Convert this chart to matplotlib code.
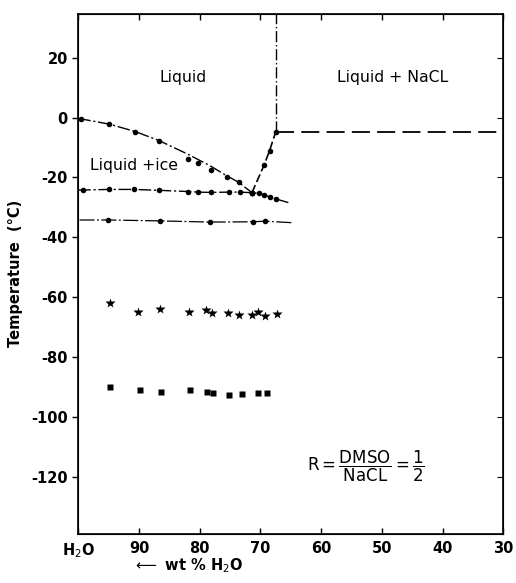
import numpy as np
import matplotlib
matplotlib.use("Agg")
import matplotlib.pyplot as plt

# --- Data (x = wt % H2O, y = temperature in deg C) ---
ice_pts_x = [99.5, 94.9, 90.6, 86.7, 81.9, 80.2, 78.2, 75.5, 73.5, 71.4]
ice_pts_y = [-0.4, -2.2, -4.7, -7.7, -14.0, -15.2, -17.5, -19.9, -21.6, -25.1]
ice_line_x = [100.0, 94.9, 90.6, 86.7, 82.0, 78.3, 75.5, 73.6, 71.4]
ice_line_y = [-0.3, -2.2, -4.7, -7.7, -12.2, -16.1, -19.5, -21.6, -25.1]

nacl_pts_x = [71.4, 69.4, 68.5, 67.5]
nacl_pts_y = [-25.1, -15.9, -11.1, -4.9]

eut_pts_x = [99.2, 94.9, 90.9, 86.7, 81.9, 80.2, 78.2, 75.2, 73.3, 71.4, 70.3, 69.4, 68.4, 67.4]
eut_pts_y = [-24.2, -24.0, -24.0, -24.3, -24.7, -24.9, -25.0, -24.9, -24.9, -25.1, -25.3, -25.8, -26.6, -27.2]
eut_line_x = [100.0] + eut_pts_x + [65.4]
eut_line_y = [-24.2] + eut_pts_y + [-28.4]

low_pts_x = [95.1, 86.6, 78.3, 71.3, 69.3]
low_pts_y = [-34.2, -34.5, -34.9, -34.8, -34.6]
low_line_x = [99.8] + low_pts_x + [64.8]
low_line_y = [-34.2] + low_pts_y + [-35.1]

star_x = [94.7, 90.1, 86.5, 81.7, 79.0, 78.0, 75.3, 73.6, 71.4, 70.4, 69.2, 67.3]
star_y = [-62.0, -64.9, -64.0, -64.9, -64.3, -65.3, -65.4, -65.9, -66.0, -64.9, -66.3, -65.7]

sq_x = [94.7, 89.9, 86.3, 81.6, 78.8, 77.8, 75.1, 73.1, 70.4, 69.0]
sq_y = [-90.1, -91.1, -91.5, -91.0, -91.7, -92.0, -92.5, -92.3, -91.8, -92.1]

# NaCl solubility boundaries
corner = (67.5, -5.0)
x_max, x_min = 100, 30
y_min, y_max = -139, 34.7

x_ticks = [100, 90, 80, 70, 60, 50, 40, 30]
x_labels = ["H$_2$O", "90", "80", "70", "60", "50", "40", "30"]
y_ticks = [20, 0, -20, -40, -60, -80, -100, -120]

plt.rcParams['axes.unicode_minus'] = False
plt.rcParams['font.family'] = ['DejaVu Sans']
plt.rcParams['mathtext.fontset'] = 'dejavusans'

fig = plt.figure(figsize=(5.16, 5.83), dpi=100)
ax = fig.add_axes([0.1517, 0.0840, 0.8237, 0.8928])

lc = 'black'
# ice liquidus
ax.plot(ice_line_x, ice_line_y, color=lc, lw=1.0, dashes=(9, 2, 1.5, 2))
ax.plot(ice_pts_x, ice_pts_y, 'o', color=lc, ms=4, mec='none')
# NaCl liquidus
ax.plot(nacl_pts_x, nacl_pts_y, color=lc, lw=1.2, dashes=(5, 2))
ax.plot(nacl_pts_x, nacl_pts_y, 'o', color=lc, ms=4, mec='none')
# eutectic line
ax.plot(eut_line_x, eut_line_y, color=lc, lw=1.0, dashes=(9, 2, 1.5, 2))
ax.plot(eut_pts_x, eut_pts_y, 'o', color=lc, ms=4, mec='none')
# lower transition line
ax.plot(low_line_x, low_line_y, color=lc, lw=0.9, dashes=(12, 2, 1.5, 2))
ax.plot(low_pts_x, low_pts_y, 'o', color=lc, ms=4, mec='none')
# stars and squares
ax.plot(star_x, star_y, '*', color=lc, ms=7.5, mec='none')
ax.plot(sq_x, sq_y, 's', color=lc, ms=4.2, mec='none')

# boundaries of Liquid + NaCL region
ax.plot([corner[0], corner[0]], [corner[1], y_max], color=lc, lw=1.0, dashes=(8, 2, 1, 2))
ax.plot([corner[0], x_min], [corner[1], corner[1]], color=lc, lw=1.3, dashes=(10, 4))

txt_size = 11.3
ax.text(82.8, 13.5, "Liquid", ha='center', va='center', fontsize=txt_size)
ax.text(48.3, 13.5, "Liquid + NaCL", ha='center', va='center', fontsize=txt_size)
ax.text(90.9, -15.9, "Liquid +ice", ha='center', va='center', fontsize=txt_size)
ax.text(52.6, -116.5, r"R$=\dfrac{\mathrm{DMSO}}{\mathrm{NaCL}}=\dfrac{1}{2}$",
        ha='center', va='center', fontsize=12)

ax.set_xlim(x_max, x_min)
ax.set_ylim(y_min, y_max)
ax.set_xticks(x_ticks)
ax.set_xticklabels(x_labels)
ax.set_yticks(y_ticks)
ax.tick_params(axis='x', direction='in', top=True, length=4, width=1, labelsize=10.5, pad=5)
ax.tick_params(axis='y', direction='out', length=4, width=1, labelsize=10.5)
for t in ax.get_yticklabels() + ax.get_xticklabels():
    t.set_fontweight('bold')
for s in ax.spines.values():
    s.set_linewidth(1.2)

# right-side ticks pointing inward
ax2 = ax.twinx()
ax2.set_ylim(y_min, y_max)
ax2.set_yticks(y_ticks)
ax2.tick_params(axis='y', direction='in', length=4, labelright=False)

ax.set_ylabel("Temperature  (°C)", fontsize=10.5, fontweight='bold', labelpad=6)
fig.text(0.365, 0.014, r"$\longleftarrow$ wt % H$_2$O", ha='center', va='bottom',
         fontsize=10.5, fontweight='bold')

fig.savefig("out.png", dpi=100)
